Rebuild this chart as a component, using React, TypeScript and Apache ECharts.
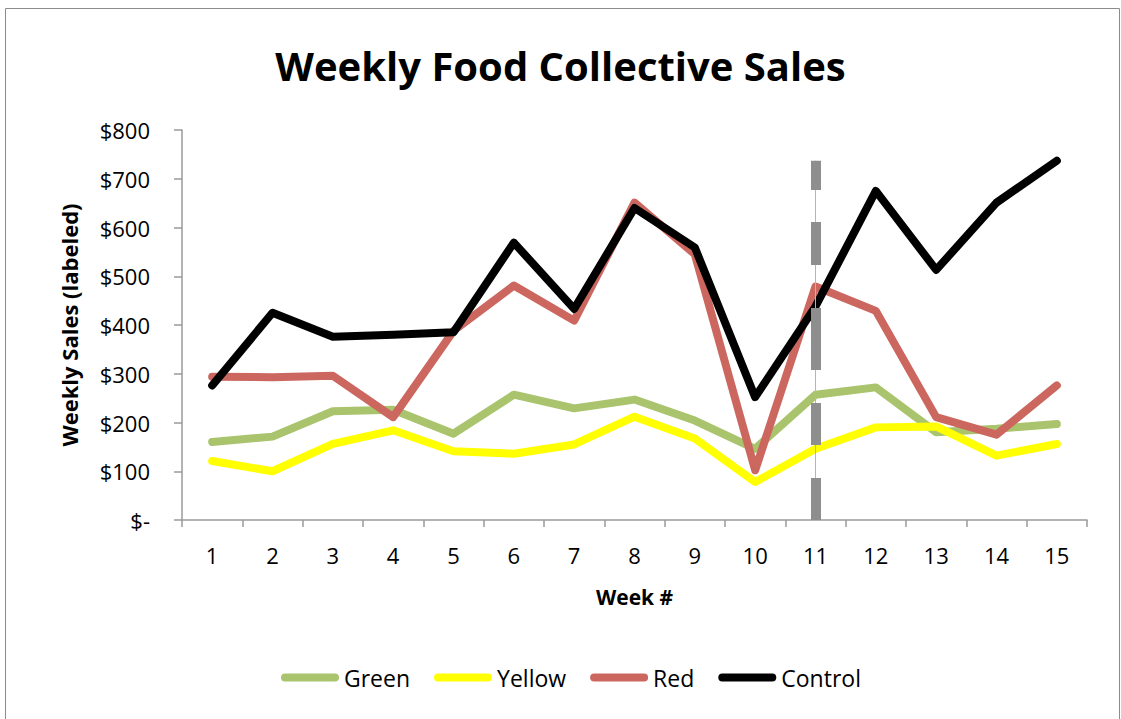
import React, { useEffect, useRef } from "react";
import * as echarts from "echarts";

const weeks = ["1", "2", "3", "4", "5", "6", "7", "8", "9", "10", "11", "12", "13", "14", "15"];
const green = [160, 171, 223, 226, 177, 257, 229, 247, 204, 146, 257, 272, 180, 187, 197];
const yellow = [121, 100, 156, 184, 141, 136, 155, 212, 167, 78, 146, 190, 192, 132, 156];
const red = [294, 293, 296, 211, 388, 481, 409, 651, 545, 102, 479, 429, 211, 175, 276];
const control = [276, 425, 376, 380, 385, 569, 433, 640, 559, 252, 438, 675, 513, 651, 737];
const dividerWeek = "11";
const dividerTop = 737;

const FONT = "'Open Sans', Lato, sans-serif";
const capsule = "path://M4,0 L54,0 A4,4 0 0 1 54,8 L4,8 A4,4 0 0 1 4,0 Z";

export default function App() {
  const ref = useRef<HTMLDivElement>(null);
  useEffect(() => {
    if (!ref.current) return;
    const chart = echarts.init(ref.current, null, { renderer: "svg" });
    const lineSeries = (name: string, data: number[], color: string) => ({
      name,
      type: "line",
      data,
      z: 3,
      showSymbol: false,
      symbol: "none",
      lineStyle: { color, width: 8, cap: "round", join: "round" },
      itemStyle: { color },
    });
    chart.setOption({
      animation: false,
      backgroundColor: "#fff",
      textStyle: { fontFamily: FONT },
      graphic: [
        {
          type: "rect",
          shape: { x: 5.5, y: 8.5, width: 1114, height: 720 },
          style: { fill: "none", stroke: "#8c8c8c", lineWidth: 1 },
          silent: true,
        },
      ],
      title: {
        text: "Weekly Food Collective Sales",
        left: "center",
        top: 40,
        textStyle: { fontFamily: FONT, fontSize: 40, fontWeight: "bold", color: "#000" },
      },
      legend: {
        data: ["Green", "Yellow", "Red", "Control"],
        left: 276,
        top: 661,
        icon: capsule,
        itemWidth: 58,
        itemHeight: 8,
        itemGap: 24,
        textStyle: { fontFamily: FONT, fontSize: 23, color: "#000" },
      },
      grid: { left: 182, right: 34, top: 130, bottom: 199 },
      xAxis: {
        type: "category",
        data: weeks,
        boundaryGap: true,
        name: "Week #",
        nameLocation: "middle",
        nameGap: 66,
        nameTextStyle: { fontFamily: FONT, fontSize: 21, fontWeight: "bold", color: "#000" },
        axisLine: { lineStyle: { color: "#9a9a9a", width: 1.5 } },
        axisTick: { show: true, length: 7, lineStyle: { color: "#9a9a9a", width: 1.5 } },
        axisLabel: { fontFamily: FONT, fontSize: 22, color: "#000", margin: 24 },
      },
      yAxis: {
        type: "value",
        min: 0,
        max: 800,
        interval: 100,
        name: "Weekly Sales (labeled)",
        nameLocation: "middle",
        nameGap: 102,
        nameTextStyle: { fontFamily: FONT, fontSize: 22, fontWeight: "bold", color: "#000" },
        axisLine: { show: true, lineStyle: { color: "#9a9a9a", width: 1.5 } },
        axisTick: { show: true, length: 8, lineStyle: { color: "#9a9a9a", width: 1.5 } },
        splitLine: { show: false },
        axisLabel: {
          fontFamily: FONT,
          fontSize: 22,
          color: "#000",
          margin: 32,
          formatter: (v: number) => (v === 0 ? "$-" : "$" + v),
        },
      },
      series: [
        {
          name: "divider",
          type: "line",
          data: [],
          z: 1,
          markLine: {
            silent: true,
            symbol: "none",
            label: { show: false },
            data: [
              [
                { coord: [dividerWeek, 0], lineStyle: { color: "#b5b5b5", width: 1, type: "solid" } },
                { coord: [dividerWeek, dividerTop] },
              ],
              [
                {
                  coord: [dividerWeek, 0],
                  lineStyle: { color: "#8e8e8e", width: 10, type: [42, 33, 42, 33, 62, 43, 43, 32, 31, 400] },
                },
                { coord: [dividerWeek, dividerTop] },
              ],
            ],
          },
        },
        lineSeries("Green", green, "#A9C46C"),
        lineSeries("Yellow", yellow, "#FFFF00"),
        lineSeries("Red", red, "#CC6760"),
        lineSeries("Control", control, "#000000"),
      ],
    });
    return () => chart.dispose();
  }, []);
  return (
    <div
      ref={ref}
      style={{ position: "fixed", left: 0, top: 0, width: 1121, height: 719, background: "#fff" }}
    />
  );
}
